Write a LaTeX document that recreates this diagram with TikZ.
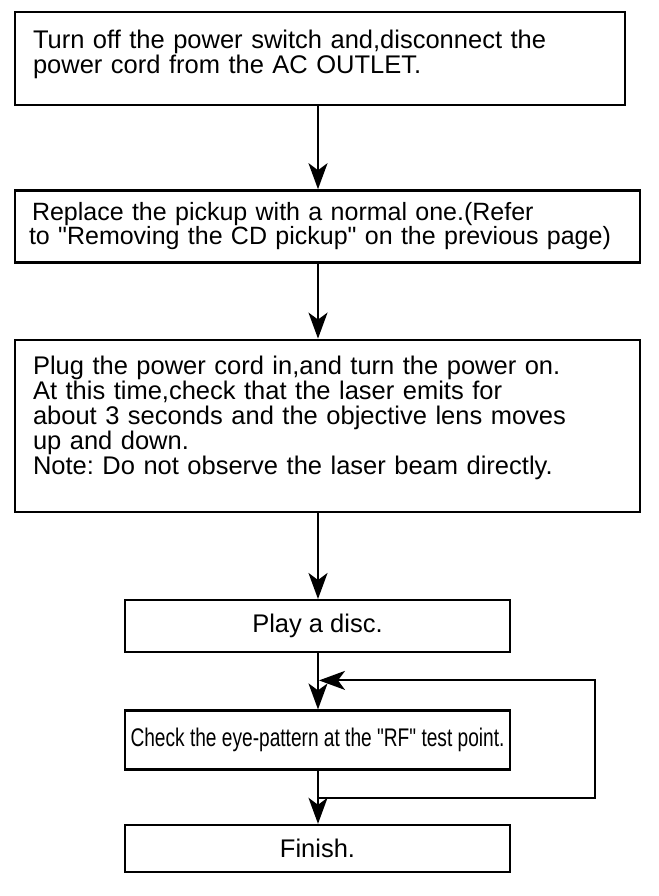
\documentclass[tikz,border=0pt]{standalone}
\usepackage{fontspec}
\setmainfont{Liberation Sans}
\usetikzlibrary{positioning,arrows.meta}
\frenchspacing

\begin{document}
\begin{tikzpicture}[
  x=1pt, y=-1pt,
  >={Stealth[length=26pt, width=19pt, inset=7pt]},
  stepbox/.style={draw, line width=2.4pt, align=left, inner xsep=18pt,
                  font=\fontsize{25.5}{25}\selectfont},
  endbox/.style={draw, line width=2.4pt, align=center, inner sep=0pt,
                 minimum width=385pt, font=\fontsize{25.5}{25}\selectfont},
  flow/.style={line width=2pt},
  node distance=85pt
]
  \useasboundingbox (0,0) rectangle (658,896);
  \coordinate (spine) at (318,0);
  \coordinate (loopR) at (595,0);

  \node[stepbox, text width=574pt, minimum height=93pt] (off) at (320,58.5)
    {Turn off the power switch and,disconnect the\\power cord from the AC OUTLET.\\[-12pt]\mbox{}};
  \node[stepbox, inner xsep=14pt, text width=597pt, minimum height=72pt,
        font=\fontsize{25}{24}\selectfont, below=83pt of off, xshift=7.5pt] (pickup)
    {\hspace*{3pt}Replace the pickup with a normal one.(Refer\\to \textquotedbl Removing the CD pickup\textquotedbl\ on the previous page)};
  \node[stepbox, text width=589pt, minimum height=172pt, below=75pt of pickup] (poweron)
    {Plug the power cord in,and turn the power on.\\
     At this time,check that the laser emits for\\
     about 3 seconds and the objective lens moves\\
     up and down.\\
     Note: Do not observe the laser beam directly.\\[-3pt]\mbox{}};
  \node[endbox, minimum height=52pt, below=86pt of poweron, xshift=-10pt] (play)
    {Play a disc.};
  \node[endbox, minimum height=59pt, below=56pt of play] (eye)
    {\scalebox{0.75}[1]{Check the eye-pattern at the \textquotedbl RF\textquotedbl\ test point.}};
  \node[endbox, minimum height=47pt, below=53pt of eye] (finish)
    {Finish.};

  \draw[flow, ->] (off.south -| spine) -- (pickup.north -| spine);
  \draw[flow, ->] (pickup.south -| spine) -- (poweron.north -| spine);
  \draw[flow, ->] (poweron.south -| spine) -- (play.north -| spine);
  \draw[flow, ->] (play.south -| spine) -- (eye.north -| spine);
  \draw[flow, ->] (eye.south -| spine) -- (finish.north -| spine);

  % retry loop
  \path (eye.south -| spine) ++(0,27) coordinate (back);
  \path (play.south -| spine) ++(1,27) coordinate (ret);
  \draw[flow, ->] (back) -- (back -| loopR) -- (ret -| loopR) -- (ret);
\end{tikzpicture}
\end{document}
